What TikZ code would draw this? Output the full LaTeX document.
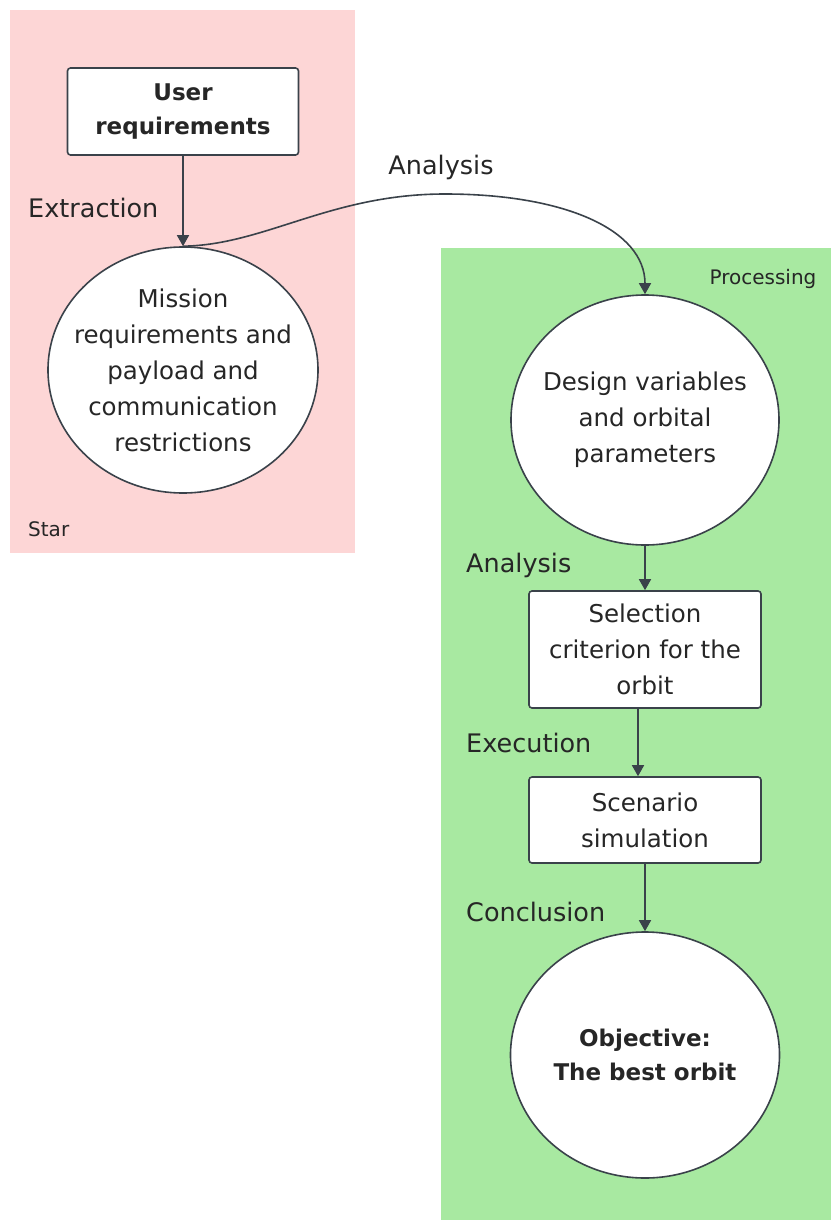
\documentclass[tikz,border=0pt]{standalone}
\usepackage{fontspec}
\setmainfont{DejaVu Sans}
\usetikzlibrary{shapes.geometric,arrows.meta}
\definecolor{pinkbg}{RGB}{253,214,214}
\definecolor{greenbg}{RGB}{168,233,161}
\definecolor{edgec}{RGB}{58,66,74}
\definecolor{txt}{RGB}{38,38,38}
\begin{document}
\begin{tikzpicture}[x=1pt,y=-1pt,
  every node/.style={text=txt},
  body/.style={font=\fontsize{24.5}{36}\selectfont, align=center},
  boldbody/.style={font=\fontsize{23}{33.5}\selectfont\bfseries, align=center},
  rbox/.style={draw=edgec, line width=1.6pt, fill=white, rounded corners=3pt, inner sep=0pt},
  ell/.style={ellipse, draw=edgec, line width=1.6pt, fill=white, inner sep=-40pt},
  lbl/.style={font=\fontsize{25.5}{28}\selectfont, anchor=west, inner sep=0pt},
  small/.style={font=\fontsize{20}{22}\selectfont, inner sep=0pt},
  arr/.style={draw=edgec, line width=1.6pt, -{Triangle[width=12pt,length=11pt]}}
]
\useasboundingbox (0,0) rectangle (831,1220);
\fill[pinkbg] (10,10) rectangle (355,553);
\fill[greenbg] (441,248) rectangle (831,1220);

\node[rbox, boldbody, minimum width=231pt, minimum height=87pt] (ur) at (183,111.5) {User\\requirements};
\node[ell, body, minimum width=270pt, minimum height=246pt] (m1) at (183,370) {Mission\\requirements and\\payload and\\communication\\restrictions};
\node[ell, body, minimum width=268pt, minimum height=250pt] (dv) at (645,420) {Design variables\\and orbital\\parameters};
\node[rbox, body, minimum width=232pt, minimum height=117pt] (sc) at (645,649.5) {Selection\\criterion for the\\orbit};
\node[rbox, body, minimum width=232pt, minimum height=86pt] (ss) at (645,820) {Scenario\\simulation};
\node[ell, boldbody, minimum width=269pt, minimum height=246pt] (ob) at (645,1055) {Objective:\\The best orbit};

\node[lbl] (lext) at (28,208) {Extraction};
\node[lbl, anchor=center] (lana1) at (441,167) {Analysis};
\node[lbl] (lana2) at (466,565) {Analysis};
\node[lbl] (lexe) at (466,743) {Execution};
\node[lbl] (lcon) at (466,912) {Conclusion};
\node[small] (lproc) at (763,279) {Processing};
\node[small, anchor=west] (lstar) at (28,529) {Star};

\coordinate (peak) at (445,194);
\draw[arr] (ur.south) -- (m1.north);
\draw[arr] (m1.north) .. controls (265,245) and (330,194) .. (peak) .. controls (565,194) and (645,230) .. (dv.north);
\draw[arr] (dv.south) -- (sc.north);
\draw[arr] ([xshift=-7pt]sc.south) -- ([xshift=-7pt]ss.north);
\draw[arr] (ss.south) -- (ob.north);
\end{tikzpicture}
\end{document}
